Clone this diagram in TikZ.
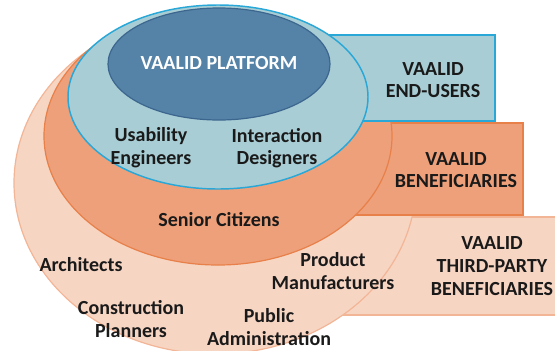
\documentclass[tikz,border=0pt]{standalone}
\usepackage{fontspec}
\setmainfont{Carlito}
\usepackage{tikz}
\definecolor{platformblue}{RGB}{85,131,168}
\definecolor{platformedge}{RGB}{60,102,142}
\definecolor{userblue}{RGB}{168,205,213}
\definecolor{useredge}{RGB}{41,168,216}
\definecolor{benorange}{RGB}{238,160,122}
\definecolor{benedge}{RGB}{232,128,74}
\definecolor{thirdpeach}{RGB}{247,213,195}
\definecolor{thirdedge}{RGB}{242,181,150}
\definecolor{labelink}{RGB}{26,26,26}

\begin{document}
\begin{tikzpicture}[x=0.75pt, y=-0.75pt,
  font=\fontsize{15}{17}\selectfont\bfseries,
  grp/.style={align=center, text=labelink},
  ring/.style={line width=0.9pt}]
  \useasboundingbox (0,0) rectangle (555,350);
  \clip (0,0) rectangle (555,350);
  % third-party ring
  \filldraw[ring, fill=thirdpeach, draw=thirdedge] (300,217) rectangle (570,315);
  \filldraw[ring, fill=thirdpeach, draw=thirdedge] (215,183) ellipse [x radius=201, y radius=171];
  % beneficiaries ring
  \filldraw[ring, fill=benorange, draw=benedge] (300,123) rectangle (523,215);
  \filldraw[ring, fill=benorange, draw=benedge] (218,136) ellipse [x radius=174, y radius=129];
  % end-users ring
  \filldraw[ring, fill=userblue, draw=useredge] (300,35) rectangle (495,121);
  \filldraw[ring, fill=userblue, draw=useredge, line width=1.1pt] (218,97) ellipse [x radius=150, y radius=92];
  % platform
  \filldraw[ring, fill=platformblue, draw=platformedge] (219,64) ellipse [x radius=111, y radius=56];
  % Labels
  \node[grp, text=white] (platform) at (219,63) {VAALID PLATFORM};
  \node[grp] (usability) at (151,148) {Usability\\Engineers};
  \node[grp] (interaction) at (277,148) {Interaction\\Designers};
  \node[grp] (endusers) at (433,80) {VAALID\\END-USERS};
  \node[grp] (beneficiaries) at (456,170) {VAALID\\BENEFICIARIES};
  \node[grp] (senior) at (219,220) {Senior Citizens};
  \node[grp] (architects) at (81,265) {Architects};
  \node[grp] (product) at (333,271) {Product\\Manufacturers};
  \node[grp] (construction) at (131,319) {Construction\\Planners};
  \node[grp] (public) at (269,327) {Public\\Administration};
  \node[grp] (thirdparty) at (492,266) {VAALID\\THIRD-PARTY\\BENEFICIARIES};
\end{tikzpicture}
\end{document}
